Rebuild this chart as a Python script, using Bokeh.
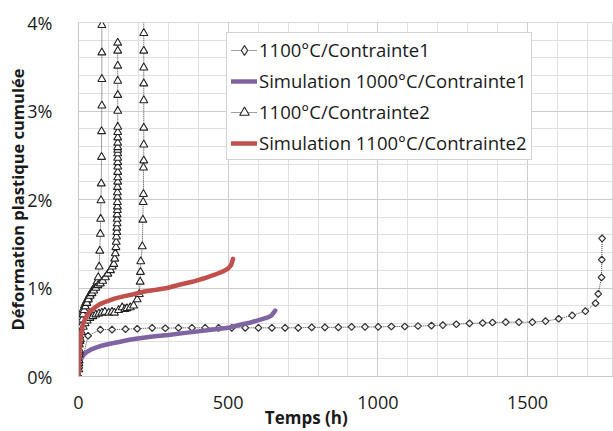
import numpy as np
from bokeh.plotting import figure
from bokeh.models import FixedTicker, Legend, LegendItem
from bokeh.embed import file_html
from bokeh.resources import INLINE

FONT = "Open Sans"

# Essai 1100°C / Contrainte1 (losanges)
t_exp1 = [0, 32, 73, 112, 157, 196, 246, 290, 334, 379, 423, 468, 512, 557, 601,
          646, 690, 734, 779, 823, 868, 912, 957, 1001, 1045, 1090, 1134, 1179,
          1217, 1262, 1306, 1350, 1383, 1427, 1471, 1516, 1560, 1604, 1649, 1693,
          1727, 1736, 1747, 1748, 1749]
e_exp1 = [0.00, 0.46, 0.53, 0.53, 0.535, 0.54, 0.55, 0.545, 0.55, 0.55, 0.55, 0.55,
          0.55, 0.55, 0.55, 0.55, 0.55, 0.55, 0.555, 0.555, 0.555, 0.56, 0.56, 0.56,
          0.565, 0.565, 0.57, 0.575, 0.58, 0.59, 0.60, 0.605, 0.61, 0.614, 0.614,
          0.614, 0.625, 0.652, 0.69, 0.738, 0.828, 0.934, 1.12, 1.32, 1.56]

# Simulation 1000°C / Contrainte1
t_sim1 = [0, 2, 5, 10, 18, 29, 45, 60, 80, 105, 135, 170, 210, 255, 300, 350, 400,
          450, 500, 540, 575, 605, 630, 645, 657]
e_sim1 = [0.03, 0.10, 0.16, 0.21, 0.25, 0.28, 0.31, 0.33, 0.35, 0.37, 0.39, 0.415,
          0.435, 0.455, 0.47, 0.49, 0.51, 0.53, 0.55, 0.585, 0.61, 0.64, 0.665, 0.69,
          0.745]

# Essais 1100°C / Contrainte2 (triangles) : trois éprouvettes
t_exp2a = [0, 1, 2, 3, 4, 6, 8, 10, 13, 16, 20, 24, 28, 33, 38, 43, 48, 53, 58, 62,
           66, 69, 71, 73, 74, 75, 76, 77, 77, 78, 78, 78, 78]
e_exp2a = [0.00, 0.12, 0.25, 0.36, 0.46, 0.55, 0.62, 0.67, 0.72, 0.76, 0.80, 0.83,
           0.86, 0.89, 0.92, 0.95, 0.98, 1.00, 1.03, 1.07, 1.12, 1.24, 1.42, 1.61,
           1.78, 1.99, 2.18, 2.48, 2.77, 3.06, 3.36, 3.66, 3.97]
t_exp2b = [0, 1, 2, 3, 5, 7, 9, 12, 15, 19, 23, 28, 33, 39, 45, 51, 58, 65, 73, 81,
           90, 98, 107, 113, 118, 121, 123, 125, 126, 127, 128, 128, 129, 129, 129,
           130, 130, 130, 130, 130, 130, 131, 131, 131, 131, 131, 131, 131, 131, 131,
           131, 131, 131, 131, 131, 131, 131, 131, 131, 131]
e_exp2b = [0.00, 0.08, 0.18, 0.28, 0.40, 0.50, 0.57, 0.64, 0.70, 0.75, 0.79, 0.83,
           0.87, 0.91, 0.94, 0.97, 1.00, 1.03, 1.05, 1.08, 1.12, 1.16, 1.20, 1.24,
           1.27, 1.33, 1.39, 1.46, 1.52, 1.58, 1.63, 1.68, 1.73, 1.78, 1.83, 1.88,
           1.92, 1.97, 2.03, 2.08, 2.14, 2.20, 2.25, 2.31, 2.37, 2.42, 2.47, 2.52,
           2.56, 2.59, 2.64, 2.70, 2.76, 2.82, 3.00, 3.18, 3.34, 3.51, 3.68, 3.77]
t_exp2c = [0, 1, 3, 6, 10, 16, 22, 29, 38, 48, 58, 68, 78, 88, 101, 112, 120, 134,
           146, 155, 162, 173, 184, 196, 203, 206, 207, 208, 213, 215, 216, 217, 217,
           218, 218, 218, 218, 218, 218, 218, 218, 218]
e_exp2c = [0.00, 0.15, 0.30, 0.42, 0.50, 0.56, 0.60, 0.63, 0.66, 0.68, 0.70, 0.71,
           0.72, 0.73, 0.72, 0.73, 0.72, 0.75, 0.78, 0.76, 0.77, 0.78, 0.80, 0.87,
           0.93, 1.07, 1.18, 1.30, 1.47, 1.77, 1.97, 2.06, 2.36, 2.44, 2.62, 2.81,
           3.12, 3.31, 3.49, 3.68, 3.88, 4.30]

# Simulation 1100°C / Contrainte2
t_sim2 = [0, 2, 4, 7, 11, 16, 22, 30, 40, 55, 73, 95, 120, 150, 184, 220, 260, 296,
          340, 380, 420, 455, 485, 500, 510, 516]
e_sim2 = [0.00, 0.22, 0.33, 0.43, 0.53, 0.60, 0.65, 0.70, 0.74, 0.78, 0.82, 0.85,
          0.88, 0.905, 0.93, 0.96, 0.98, 1.00, 1.04, 1.07, 1.11, 1.15, 1.19, 1.22,
          1.26, 1.33]

labels = ["1100°C/Contrainte1", "Simulation 1000°C/Contrainte1",
          "1100°C/Contrainte2", "Simulation 1100°C/Contrainte2"]
x_title = "Temps (h)"
y_title = "Déformation plastique cumulée"
x_ticks = [0, 500, 1000, 1500]
y_ticks = [0, 1, 2, 3, 4]

t_exp2 = t_exp2a + [np.nan] + t_exp2b + [np.nan] + t_exp2c
e_exp2 = e_exp2a + [np.nan] + e_exp2b + [np.nan] + e_exp2c

p = figure(width=613, height=431, output_backend="svg", toolbar_location=None,
           x_range=(0, 1787), y_range=(0, 4),
           min_border_left=78, min_border_right=0, min_border_top=22,
           min_border_bottom=55)
p.background_fill_color = "white"
p.border_fill_color = "white"
p.outline_line_color = "#d9d9d9"

grid_major = "#cccccc"
grid_minor = "#e0e0e0"
p.xaxis.ticker = FixedTicker(ticks=x_ticks, minor_ticks=list(range(0, 1800, 100)))
p.yaxis.ticker = FixedTicker(ticks=y_ticks, minor_ticks=[i * 0.2 for i in range(21)])
p.xgrid.grid_line_color = grid_major
p.ygrid.grid_line_color = grid_major
p.xgrid.minor_grid_line_color = grid_minor
p.ygrid.minor_grid_line_color = grid_minor

p.yaxis.major_label_overrides = {v: f"{v}%" for v in y_ticks}
for ax in (p.xaxis, p.yaxis):
    ax.axis_line_color = "#c8c8c8"
    ax.major_tick_line_color = None
    ax.minor_tick_line_color = None
    ax.major_label_text_font = FONT
    ax.major_label_text_font_size = "18px"
    ax.major_label_text_color = "#1a1a1a"
    ax.axis_label_text_font = FONT
    ax.axis_label_text_font_style = "bold"
    ax.axis_label_text_color = "#1a1a1a"
p.yaxis.major_label_standoff = 20
p.xaxis.major_label_standoff = 13

p.yaxis.axis_label = y_title
p.yaxis.axis_label_text_font_size = "16.5px"
p.yaxis.axis_label_standoff = -5
# title sits left of centre in the reference: pad with non-breaking spaces
p.xaxis.axis_label = x_title + "\u00a0" * 18
p.xaxis.axis_label_text_font_size = "17px"
p.xaxis.axis_label_standoff = -6

dot_col = "#404040"
l1 = p.line(t_exp1, e_exp1, line_color=dot_col, line_width=1, line_dash="1 1")
s1 = p.scatter(t_exp1, e_exp1, marker="square", angle=np.pi / 4, size=4.8,
               line_color="#333333", line_width=1.2, fill_color="#f4f4f4")
s1_leg = p.scatter([np.nan], [np.nan], marker="diamond", size=8,
                   line_color="#333333", line_width=1.2, fill_color="#f4f4f4")
l2 = p.line(t_sim1, e_sim1, line_color="#8064A2", line_width=4.5, line_cap="round")
l3 = p.line(t_exp2, e_exp2, line_color=dot_col, line_width=1, line_dash="1 1")
s3 = p.scatter(t_exp2, e_exp2, marker="triangle", size=8,
               line_color="#222222", line_width=1.1, fill_color="white")
l4 = p.line(t_sim2, e_sim2, line_color="#C0504D", line_width=4.5, line_cap="round")

legend = Legend(items=[LegendItem(label=labels[0], renderers=[l1, s1_leg]),
                       LegendItem(label=labels[1], renderers=[l2]),
                       LegendItem(label=labels[2], renderers=[l3, s3]),
                       LegendItem(label=labels[3], renderers=[l4])],
                location=(148, 216), margin=0, padding=4, spacing=6,
                glyph_width=26, glyph_height=24, label_height=24, label_standoff=2,
                label_text_font=FONT, label_text_font_size="18.5px",
                label_text_color="#1a1a1a",
                border_line_color="#a6a6a6", border_line_width=1,
                background_fill_color="white", background_fill_alpha=1)
p.add_layout(legend)

open("out.html", "w").write(file_html(p, INLINE))
